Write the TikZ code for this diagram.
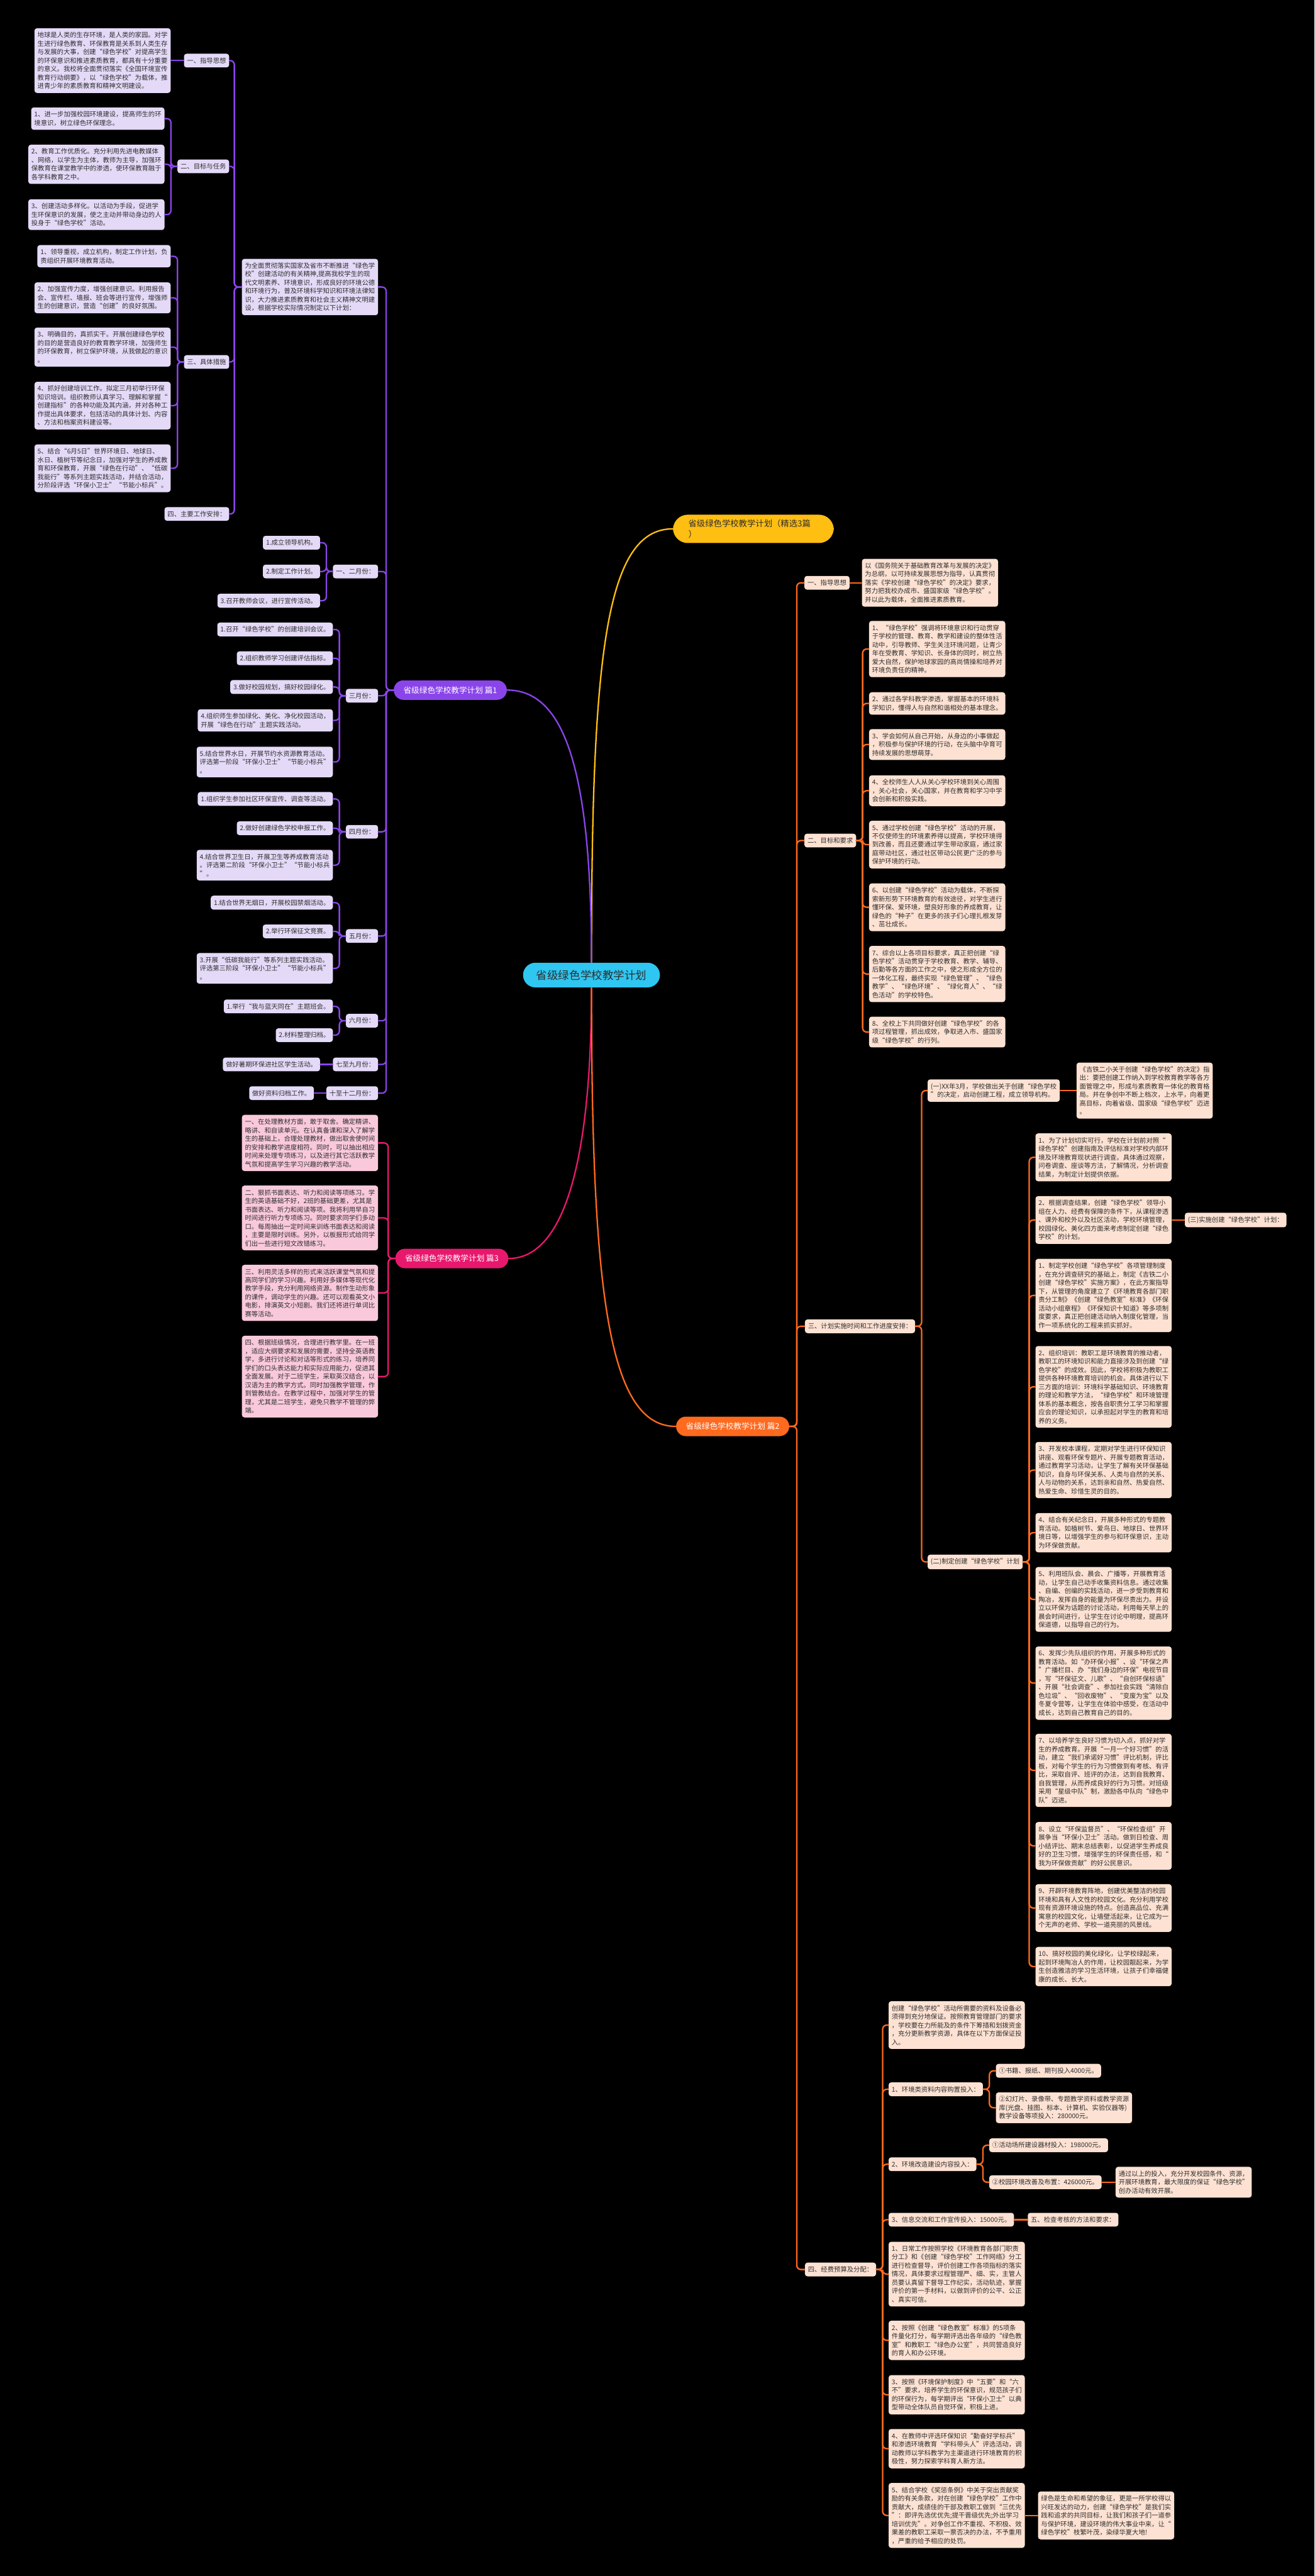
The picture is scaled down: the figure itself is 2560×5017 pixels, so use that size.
\documentclass[tikz,border=0pt]{standalone}
\usepackage{fontspec}
\setmainfont{Noto Sans CJK SC}
\usepackage{tikz}
\definecolor{rootcyan}{HTML}{2FC6F1}
\definecolor{headgold}{HTML}{FFBE12}
\definecolor{pplline}{HTML}{8A45EA}
\definecolor{pplfill}{HTML}{E4DAF8}
\definecolor{pnkline}{HTML}{E8186D}
\definecolor{pnkfill}{HTML}{F9C9DB}
\definecolor{orgline}{HTML}{FF6A1F}
\definecolor{orgfill}{HTML}{FDE2D3}
\definecolor{txtdark}{HTML}{2E2E2E}
\tikzset{
  every picture/.style={
    line join=round,
    line cap=round,
  },
  rootnode/.style={fill=rootcyan, rounded corners=0.24cm, minimum height=0.48cm,
    inner xsep=0.26cm, text=txtdark, font=\fontsize{6.1}{7}\selectfont},
  headnode/.style={fill=headgold, rounded corners=0.29cm, align=left, text width=2.53cm,
    inner xsep=0.3cm, inner ysep=0.1cm, text=txtdark, font=\fontsize{4.65}{5.6}\selectfont},
  partnode/.style={rounded corners=0.19cm, minimum height=0.38cm, inner xsep=0.19cm,
    text=white, font=\fontsize{4.4}{5}\selectfont},
  leafbox/.style={rounded corners=0.05cm, align=left, inner xsep=0.06cm, inner ysep=0.075cm,
    text=txtdark, font=\fontsize{3.6}{4.7}\selectfont},
  pleaf/.style={leafbox, fill=pplfill},
  kleaf/.style={leafbox, fill=pnkfill},
  oleaf/.style={leafbox, fill=orgfill},
  link/.style={line width=0.8pt, rounded corners=0.08cm},
  pline/.style={link, draw=pplline},
  kline/.style={link, draw=pnkline},
  oline/.style={link, draw=orgline},
}

\begin{document}
\begin{tikzpicture}[x=0.01cm, y=-0.01cm]
    \fill[black] (0,0) rectangle (2560,5017);
    \useasboundingbox (0,0) rectangle (2560,5017);

    % Centre and title
    \node[rootnode] (root) at (1152,1899) {省级绿色学校教学计划};
    \node[headnode, anchor=west] (head) at (1310,1030) {省级绿色学校教学计划（精选3篇\\）};
    \node[partnode, fill=pplline] (p1) at (877,1344) {省级绿色学校教学计划 篇1};
    \node[partnode, fill=pnkline] (p3) at (880,2451) {省级绿色学校教学计划 篇3};
    \node[partnode, fill=orgline] (p2) at (1427,2778) {省级绿色学校教学计划 篇2};

    \draw[line width=0.8pt, headgold] (root.north) .. controls +(0,-600) and +(-130,0) .. (head.west);
    \draw[line width=0.8pt, pplline] (root.north) .. controls +(0,-380) and +(110,0) .. (p1.east);
    \draw[line width=0.8pt, pnkline] (root.south) .. controls +(0,330) and +(110,0) .. (p3.east);
    \draw[line width=0.8pt, orgline] (root.south) .. controls +(0,600) and +(-130,0) .. (p2.west);

    % Part 1
    \node[pleaf, anchor=east] (intro) at (737,559) {为全面贯彻落实国家及省市不断推进“绿色学\\校”创建活动的有关精神,提高我校学生的现\\代文明素养、环境意识，形成良好的环境公德\\和环境行为，普及环境科学知识和环境法律知\\识，大力推进素质教育和社会主义精神文明建\\设，根据学校实际情况制定以下计划：};
    \node[pleaf, anchor=east] (s1) at (447,118) {一、指导思想};
    \node[pleaf, anchor=east] (s1a) at (333,118) {地球是人类的生存环境，是人类的家园。对学\\生进行绿色教育、环保教育是关系到人类生存\\与发展的大事，创建“绿色学校”对提高学生\\的环保意识和推进素质教育，都具有十分重要\\的意义。我校将全面贯彻落实《全国环境宣传\\教育行动纲要》，以“绿色学校”为载体，推\\进青少年的素质教育和精神文明建设。};
    \node[pleaf, anchor=east] (s2) at (447,324) {二、目标与任务};
    \node[pleaf, anchor=east] (s2a) at (321,231) {1、进一步加强校园环境建设，提高师生的环\\境意识，树立绿色环保理念。};
    \node[pleaf, anchor=east] (s2b) at (321,320) {2、教育工作优质化。充分利用先进电教媒体\\、网络，以学生为主体，教师为主导，加强环\\保教育在课堂教学中的渗透，使环保教育融于\\各学科教育之中。};
    \node[pleaf, anchor=east] (s2c) at (321,418) {3、创建活动多样化。以活动为手段，促进学\\生环保意识的发展，使之主动并带动身边的人\\投身于“绿色学校”活动。};
    \node[pleaf, anchor=east] (s3) at (447,705) {三、具体措施};
    \node[pleaf, anchor=east] (s3a) at (333,499) {1、领导重视，成立机构，制定工作计划，负\\责组织开展环境教育活动。};
    \node[pleaf, anchor=east] (s3b) at (333,580) {2、加强宣传力度，增强创建意识。利用报告\\会、宣传栏、墙报、班会等进行宣传，增强师\\生的创建意识，营造“创建”的良好氛围。};
    \node[pleaf, anchor=east] (s3c) at (333,676) {3、明确目的，真抓实干。开展创建绿色学校\\的目的是营造良好的教育教学环境，加强师生\\的环保教育，树立保护环境，从我做起的意识\\。};
    \node[pleaf, anchor=east] (s3d) at (333,790) {4、抓好创建培训工作。拟定三月初举行环保\\知识培训。组织教师认真学习、理解和掌握“\\创建指标”的各种功能及其内涵，并对各种工\\作提出具体要求，包括活动的具体计划、内容\\、方法和档案资料建设等。};
    \node[pleaf, anchor=east] (s3e) at (333,912) {5、结合“6月5日”世界环境日、地球日、\\水日、植树节等纪念日，加强对学生的养成教\\育和环保教育，开展“绿色在行动”、“低碳\\我能行”等系列主题实践活动，并结合活动，\\分阶段评选“环保小卫士”“节能小标兵”。};
    \node[pleaf, anchor=east] (s4) at (447,1001) {四、主要工作安排：};

    \node[pleaf, anchor=east] (m1) at (737,1113) {一、二月份：};
    \node[pleaf, anchor=east] (m1a) at (624,1057) {1.成立领导机构。};
    \node[pleaf, anchor=east] (m1b) at (624,1113) {2.制定工作计划。};
    \node[pleaf, anchor=east] (m1c) at (624,1170) {3.召开教师会议，进行宣传活动。};
    \node[pleaf, anchor=east] (m2) at (737,1355) {三月份：};
    \node[pleaf, anchor=east] (m2a) at (649,1226) {1.召开“绿色学校”的创建培训会议。};
    \node[pleaf, anchor=east] (m2b) at (649,1282) {2.组织教师学习创建评估指标。};
    \node[pleaf, anchor=east] (m2c) at (649,1338) {3.做好校园规划，搞好校园绿化。};
    \node[pleaf, anchor=east] (m2d) at (649,1403) {4.组织师生参加绿化、美化、净化校园活动，\\开展“绿色在行动”主题实践活动。};
    \node[pleaf, anchor=east] (m2e) at (649,1484) {5.结合世界水日，开展节约水资源教育活动。\\评选第一阶段“环保小卫士”“节能小标兵”\\。};
    \node[pleaf, anchor=east] (m3) at (737,1620) {四月份：};
    \node[pleaf, anchor=east] (m3a) at (649,1556) {1.组织学生参加社区环保宣传、调查等活动。};
    \node[pleaf, anchor=east] (m3b) at (649,1613) {2.做好创建绿色学校申报工作。};
    \node[pleaf, anchor=east] (m3c) at (649,1685) {4.结合世界卫生日，开展卫生等养成教育活动\\。评选第二阶段“环保小卫士”“节能小标兵\\”。};
    \node[pleaf, anchor=east] (m4) at (737,1823) {五月份：};
    \node[pleaf, anchor=east] (m4a) at (649,1758) {1.结合世界无烟日，开展校园禁烟活动。};
    \node[pleaf, anchor=east] (m4b) at (649,1814) {2.举行环保征文竞赛。};
    \node[pleaf, anchor=east] (m4c) at (649,1886) {3.开展“低碳我能行”等系列主题实践活动。\\评选第三阶段“环保小卫士”“节能小标兵”\\。};
    \node[pleaf, anchor=east] (m5) at (737,1988) {六月份：};
    \node[pleaf, anchor=east] (m5a) at (649,1960) {1.举行“我与蓝天同在”主题班会。};
    \node[pleaf, anchor=east] (m5b) at (649,2016) {2.材料整理归档。};
    \node[pleaf, anchor=east] (m6) at (737,2073) {七至九月份：};
    \node[pleaf, anchor=east] (m6a) at (624,2073) {做好暑期环保进社区学生活动。};
    \node[pleaf, anchor=east] (m7) at (737,2129) {十至十二月份：};
    \node[pleaf, anchor=east] (m7a) at (612,2129) {做好资料归档工作。};

    \foreach \c in {intro,m1,m2,m3,m4,m5,m6,m7}
        \draw[pline] (p1.west) -- ++(-14,0) |- (\c.east);
    \foreach \c in {s1,s2,s3,s4}
        \draw[pline] (intro.west) -- ++(-14,0) |- (\c.east);
    \draw[pline] (s1.west) -- (s1a.east);
    \foreach \c in {s2a,s2b,s2c}
        \draw[pline] (s2.west) -- ++(-12,0) |- (\c.east);
    \foreach \c in {s3a,s3b,s3c,s3d,s3e}
        \draw[pline] (s3.west) -- ++(-12,0) |- (\c.east);
    \foreach \c in {m1a,m1b,m1c}
        \draw[pline] (m1.west) -- ++(-12,0) |- (\c.east);
    \foreach \c in {m2a,m2b,m2c,m2d,m2e}
        \draw[pline] (m2.west) -- ++(-12,0) |- (\c.east);
    \foreach \c in {m3a,m3b,m3c}
        \draw[pline] (m3.west) -- ++(-12,0) |- (\c.east);
    \foreach \c in {m4a,m4b,m4c}
        \draw[pline] (m4.west) -- ++(-12,0) |- (\c.east);
    \foreach \c in {m5a,m5b}
        \draw[pline] (m5.west) -- ++(-12,0) |- (\c.east);
    \draw[pline] (m6.west) -- (m6a.east);
    \draw[pline] (m7.west) -- (m7a.east);

    % Part 3
    \node[kleaf, anchor=east] (k1) at (737,2226) {一、在处理教材方面，敢于取舍。确定精讲、\\略讲、和自读单元。在认真备课和深入了解学\\生的基础上，合理处理教材，做出取舍使时间\\的安排和教学进度相符。同时，可以抽出相应\\时间来处理专项练习，以及进行其它活跃教学\\气氛和提高学生学习兴趣的教学活动。};
    \node[kleaf, anchor=east] (k2) at (737,2372) {二、狠抓书面表达、听力和阅读等项练习。学\\生的英语基础不好，2班的基础更差，尤其是\\书面表达、听力和阅读等项。我将利用早自习\\时间进行听力专项练习。同时要求同学们多动\\口。每周抽出一定时间来训练书面表达和阅读\\，主要是限时训练。另外，以板报形式给同学\\们出一些进行短文改错练习。};
    \node[kleaf, anchor=east] (k3) at (737,2518) {三、利用灵活多样的形式来活跃课堂气氛和提\\高同学们的学习兴趣。利用好多媒体等现代化\\教学手段，充分利用网络资源。制作生动形象\\的课件，调动学生的兴趣。还可以观看英文小\\电影，排演英文小短剧。我们还将进行单词比\\赛等活动。};
    \node[kleaf, anchor=east] (k4) at (737,2681) {四、根据班级情况，合理进行教学里。在一班\\，适应大纲要求和发展的需要，坚持全英语教\\学，多进行讨论和对话等形式的练习，培养同\\学们的口头表达能力和实际应用能力，促进其\\全面发展。对于二班学生，采取英汉结合，以\\汉语为主的教学方式。同时加强教学管理，作\\到管教结合。在教学过程中，加强对学生的管\\理，尤其是二班学生，避免只教学不管理的弊\\端。};
    \foreach \c in {k1,k2,k3,k4}
        \draw[kline] (p3.west) -- ++(-13,0) |- (\c.east);

    % Part 2
    \node[oleaf, anchor=west] (o1) at (1566,1135) {一、指导思想};
    \node[oleaf, anchor=west] (o1a) at (1678,1135) {以《国务院关于基础教育改革与发展的决定》\\为总纲，以可持续发展思想为指导，认真贯彻\\落实《学校创建“绿色学校”的决定》要求，\\努力把我校办成市、盛国家级“绿色学校”。\\并以此为载体，全面推进素质教育。};
    \node[oleaf, anchor=west] (o2) at (1566,1637) {二、目标和要求};
    \node[oleaf, anchor=west] (g1) at (1692,1264) {1、“绿色学校”强调将环境意识和行动贯穿\\于学校的管理、教育、教学和建设的整体性活\\动中，引导教师、学生关注环境问题，让青少\\年在受教育、学知识、长身体的同时，树立热\\爱大自然，保护地球家园的高尚情操和培养对\\环境负责任的精神。};
    \node[oleaf, anchor=west] (g2) at (1692,1370) {2、通过各学科教学渗透，掌握基本的环境科\\学知识，懂得人与自然和谐相处的基本理念。};
    \node[oleaf, anchor=west] (g3) at (1692,1450) {3、学会如何从自己开始，从身边的小事做起\\，积极参与保护环境的行动，在头脑中孕育可\\持续发展的思想萌芽。};
    \node[oleaf, anchor=west] (g4) at (1692,1540) {4、全校师生人人从关心学校环境到关心周围\\，关心社会，关心国家，并在教育和学习中学\\会创新和积极实践。};
    \node[oleaf, anchor=west] (g5) at (1692,1645) {5、通过学校创建“绿色学校”活动的开展，\\不仅使师生的环境素养得以提高，学校环境得\\到改善，而且还要通过学生带动家庭，通过家\\庭带动社区，通过社区带动公民更广泛的参与\\保护环境的行动。};
    \node[oleaf, anchor=west] (g6) at (1692,1767) {6、以创建“绿色学校”活动为载体，不断探\\索新形势下环境教育的有效途径，对学生进行\\懂环保、爱环境，塑良好形象的养成教育，让\\绿色的“种子”在更多的孩子们心理扎根发芽\\、茁壮成长。};
    \node[oleaf, anchor=west] (g7) at (1692,1897) {7、综合以上各项目标要求，真正把创建“绿\\色学校”活动贯穿于学校教育、教学、辅导、\\后勤等各方面的工作之中，使之形成全方位的\\一体化工程，最终实现“绿色管理”、“绿色\\教学”、“绿色环境”、“绿化育人”、“绿\\色活动”的学校特色。};
    \node[oleaf, anchor=west] (g8) at (1692,2010) {8、全校上下共同做好创建“绿色学校”的各\\项过程管理，抓出成效，争取进入市、盛国家\\级“绿色学校”的行列。};

    \node[oleaf, anchor=west] (o3) at (1567,2583) {三、计划实施时间和工作进度安排：};
    \node[oleaf, anchor=west] (o3a) at (1806,2124) {(一)XX年3月，学校做出关于创建“绿色学校\\”的决定，启动创建工程，成立领导机构。};
    \node[oleaf, anchor=west] (o3a1) at (2096,2124) {《吉铁二小关于创建“绿色学校”的决定》指\\出：要把创建工作纳入到学校教育教学等各方\\面管理之中，形成与素质教育一体化的教育格\\局。并在争创中不断上档次，上水平，向着更\\高目标，向着省级、国家级“绿色学校”迈进\\。};
    \node[oleaf, anchor=west] (o3b) at (1806,3042) {(二)制定创建“绿色学校”计划};
    \node[oleaf, anchor=west] (q1) at (2016,2254) {1、为了计划切实可行，学校在计划前对照“\\绿色学校”创建指南及评估标准对学校内部环\\境及环境教育现状进行调查。具体通过观察，\\问卷调查、座谈等方法，了解情况，分析调查\\结果，为制定计划提供依据。};
    \node[oleaf, anchor=west] (q2) at (2016,2376) {2、根据调查结果，创建“绿色学校”领导小\\组在人力、经费有保障的条件下，从课程渗透\\、课外和校外以及社区活动，学校环境管理，\\校园绿化、美化四方面来考虑制定创建“绿色\\学校”的计划。};
    \node[oleaf, anchor=west] (q2c) at (2307,2376) {(三)实施创建“绿色学校”计划：};
    \node[oleaf, anchor=west] (q3) at (2016,2523) {1、制定学校创建“绿色学校”各项管理制度\\，在充分调查研究的基础上，制定《吉铁二小\\创建“绿色学校”实施方案》，在此方案指导\\下，从管理的角度建立了《环境教育各部门职\\责分工制》《创建“绿色教室”标准》《环保\\活动小组章程》《环保知识十知道》等多项制\\度要求，真正把创建活动纳入制度化管理，当\\作一项系统化的工程来抓实抓好。};
    \node[oleaf, anchor=west] (q4) at (2016,2701) {2、组织培训：教职工是环境教育的推动者，\\教职工的环境知识和能力直接涉及到创建“绿\\色学校”的成效。因此，学校将积极为教职工\\提供各种环境教育培训的机会。具体进行以下\\三方面的培训：环境科学基础知识、环境教育\\的理论和教学方法，“绿色学校”和环境管理\\体系的基本概念，按各自职责分工学习和掌握\\应会的理论知识，以承担起对学生的教育和培\\养的义务。};
    \node[oleaf, anchor=west] (q5) at (2016,2863) {3、开发校本课程，定期对学生进行环保知识\\讲座、观看环保专题片、开展专题教育活动，\\通过教育学习活动，让学生了解有关环保基础\\知识，自身与环保关系、人类与自然的关系、\\人与动物的关系，达到亲和自然、热爱自然、\\热爱生命、珍惜生灵的目的。};
    \node[oleaf, anchor=west] (q6) at (2016,2985) {4、结合有关纪念日，开展多种形式的专题教\\育活动。如植树节、爱鸟日、地球日、世界环\\境日等，以增强学生的参与和环保意识，主动\\为环保做贡献。};
    \node[oleaf, anchor=west] (q7) at (2016,3115) {5、利用班队会、晨会、广播等，开展教育活\\动，让学生自己动手收集资料信息。通过收集\\、自编、创编的实践活动，进一步受到教育和\\陶冶，发挥自身的能量为环保尽责出力。并设\\立以环保为话题的讨论活动，利用每天早上的\\晨会时间进行，让学生在讨论中明理，提高环\\保道德，以指导自己的行为。};
    \node[oleaf, anchor=west] (q8) at (2016,3278) {6、发挥少先队组织的作用，开展多种形式的\\教育活动。如“办环保小报”、设“环保之声\\”广播栏目、办“我们身边的环保”电视节目\\，写“环保征文、儿歌”、“自创环保标语”\\、开展“社会调查”、参加社会实践“清除白\\色垃圾”、“回收废物”、“变废为宝”以及\\冬夏令营等，让学生在体验中感受，在活动中\\成长，达到自己教育自己的目的。};
    \node[oleaf, anchor=west] (q9) at (2016,3448) {7、以培养学生良好习惯为切入点，抓好对学\\生的养成教育。开展“一月一个好习惯”的活\\动，建立“我们承诺好习惯”评比机制，评比\\板，对每个学生的行为习惯做到有考核、有评\\比，采取自评、班评的办法，达到自我教育、\\自我管理，从而养成良好的行为习惯。对班级\\采用“星级中队”制，激励各中队向“绿色中\\队”迈进。};
    \node[oleaf, anchor=west] (q10) at (2016,3595) {8、设立“环保监督员”、“环保检查组”开\\展争当“环保小卫士”活动。做到日检查、周\\小结评比、期末总结表彰，以促进学生养成良\\好的卫生习惯，增强学生的环保责任感，和“\\我为环保做贡献”的好公民意识。};
    \node[oleaf, anchor=west] (q11) at (2016,3716) {9、开辟环境教育阵地，创建优美整洁的校园\\环境和具有人文性的校园文化。充分利用学校\\现有资源环境设施的特点。创造高品位、充满\\寓意的校园文化，让墙壁活起来，让它成为一\\个无声的老师、学校一道亮丽的风景线。};
    \node[oleaf, anchor=west] (q12) at (2016,3830) {10、搞好校园的美化绿化，让学校绿起来，\\起到环境陶冶人的作用，让校园靓起来，为学\\生创造雅洁的学习生活环境，让孩子们幸福健\\康的成长、长大。};

    \node[oleaf, anchor=west] (o4) at (1567,4420) {四、经费预算及分配：};
    \node[oleaf, anchor=west] (r0) at (1730,3944) {创建“绿色学校”活动所需要的资料及设备必\\须得到充分地保证。按照教育管理部门的要求\\，学校要在力所能及的条件下筹措和划拨资金\\，充分更新教学资源，具体在以下方面保证投\\入。};
    \node[oleaf, anchor=west] (r1) at (1730,4069) {1、环境类资料内容购置投入：};
    \node[oleaf, anchor=west] (r1a) at (1939,4033) {①书籍、报纸、期刊投入4000元。};
    \node[oleaf, anchor=west] (r1b) at (1939,4105) {②幻灯片、录像带、专题教学资料或教学资源\\库(光盘、挂图、标本、计算机、实验仪器等)\\教学设备等项投入：280000元。};
    \node[oleaf, anchor=west] (r2) at (1730,4215) {2、环境改造建设内容投入：};
    \node[oleaf, anchor=west] (r2a) at (1926,4178) {①活动场所建设器材投入：198000元。};
    \node[oleaf, anchor=west] (r2b) at (1926,4250) {②校园环境改善及布置：426000元。};
    \node[oleaf, anchor=west] (r2c) at (2172,4250) {通过以上的投入，充分开发校园条件、资源，\\开展环境教育，最大限度的保证“绿色学校”\\创办活动有效开展。};
    \node[oleaf, anchor=west] (r3) at (1730,4323) {3、信息交流和工作宣传投入：15000元。};
    \node[oleaf, anchor=west] (r3a) at (2001,4323) {五、检查考核的方法和要求：};
    \node[oleaf, anchor=west] (r4) at (1730,4429) {1、日常工作按照学校《环境教育各部门职责\\分工》和《创建“绿色学校”工作网络》分工\\进行检查督导，评价创建工作各项指标的落实\\情况，具体要求过程管理严、细、实，主管人\\员要认真留下督导工作纪实，活动轨迹，掌握\\评价的第一手材料，以做到评价的公平、公正\\、真实可信。};
    \node[oleaf, anchor=west] (r5) at (1730,4558) {2、按照《创建“绿色教室”标准》的5项条\\件量化打分，每学期评选出各年级的“绿色教\\室”和教职工“绿色办公室”，共同营造良好\\的育人和办公环境。};
    \node[oleaf, anchor=west] (r6) at (1730,4664) {3、按照《环境保护制度》中“五要”和“六\\不”要求，培养学生的环保意识，规范孩子们\\的环保行为，每学期评出“环保小卫士”以典\\型带动全体队员自觉环保，积极上进。};
    \node[oleaf, anchor=west] (r7) at (1730,4769) {4、在教师中评选环保知识“勤奋好学标兵”\\和渗透环境教育“学科带头人”评选活动，调\\动教师以学科教学为主渠道进行环境教育的积\\极性，努力探索学科育人新方法。};
    \node[oleaf, anchor=west] (r8) at (1730,4899) {5、结合学校《奖惩条例》中关于突出贡献奖\\励的有关条款，对在创建“绿色学校”工作中\\贡献大，成绩佳的干部及教职工做到“三优先\\”：即评先选优优先;提干晋级优先;外出学习\\培训优先”。对争创工作不重视、不积极、效\\果差的教职工采取一票否决的办法，不予重用\\，严重的给予相应的处罚。};
    \node[oleaf, anchor=west] (r8a) at (2021,4899) {绿色是生命和希望的象征，更是一所学校得以\\兴旺发达的动力，创建“绿色学校”是我们实\\践和追求的共同目标，让我们和孩子们一道参\\与保护环境，建设环境的伟大事业中来，让“\\绿色学校”枝繁叶茂，染绿华夏大地!};

    \foreach \c in {o1,o2,o3,o4}
        \draw[oline] (p2.east) -- ++(14,0) |- (\c.west);
    \draw[oline] (o1.east) -- (o1a.west);
    \foreach \c in {g1,g2,g3,g4,g5,g6,g7,g8}
        \draw[oline] (o2.east) -- ++(12,0) |- (\c.west);
    \foreach \c in {o3a,o3b}
        \draw[oline] (o3.east) -- ++(12,0) |- (\c.west);
    \draw[oline] (o3a.east) -- (o3a1.west);
    \foreach \c in {q1,q2,q3,q4,q5,q6,q7,q8,q9,q10,q11,q12}
        \draw[oline] (o3b.east) -- ++(12,0) |- (\c.west);
    \draw[oline] (q2.east) -- (q2c.west);
    \foreach \c in {r0,r1,r2,r3,r4,r5,r6,r7,r8}
        \draw[oline] (o4.east) -- ++(12,0) |- (\c.west);
    \foreach \c in {r1a,r1b}
        \draw[oline] (r1.east) -- ++(12,0) |- (\c.west);
    \foreach \c in {r2a,r2b}
        \draw[oline] (r2.east) -- ++(12,0) |- (\c.west);
    \draw[oline] (r2b.east) -- (r2c.west);
    \draw[oline] (r3.east) -- (r3a.west);
    \draw[oline] (r8.east) -- (r8a.west);
\end{tikzpicture}
\end{document}
